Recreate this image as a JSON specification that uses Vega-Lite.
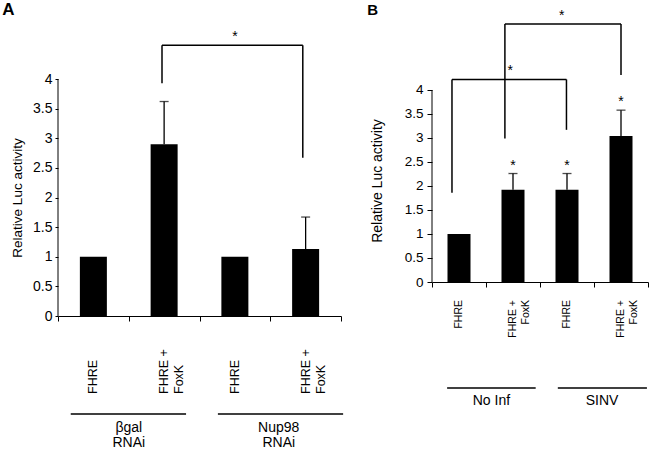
{
  "$schema": "https://vega.github.io/schema/vega-lite/v6.json",
  "padding": {"left": 2, "top": 1, "right": 0, "bottom": 0},
  "spacing": 23,
  "config": {
    "font": "Liberation Sans",
    "numberFormat": "~g",
    "view": {"stroke": null},
    "axis": {"grid": false, "domainColor": "#000", "tickColor": "#000", "labelColor": "#000", "titleColor": "#000", "titleFontWeight": "normal", "labelFont": "Liberation Sans", "titleFont": "Liberation Sans"},
    "axisY": {"tickCount": 8, "labelFontSize": 14, "titleFontSize": 13.5, "tickSize": 4, "labelPadding": 4, "domain": false},
    "axisX": {"tickCount": 4, "labels": false, "tickSize": 5},
    "text": {"color": "#000", "font": "Liberation Sans"}
  },
  "datasets": {
    "barsA": [
      {"pos": 0.5, "label": "FHRE", "value": 1},
      {"pos": 1.5, "label": "FHRE +\nFoxK", "value": 2.9, "upper": 3.62},
      {"pos": 2.5, "label": "FHRE", "value": 1},
      {"pos": 3.5, "label": "FHRE +\nFoxK", "value": 1.13, "upper": 1.67}
    ],
    "barsB": [
      {"pos": 0.5, "label": "FHRE", "value": 1},
      {"pos": 1.5, "label": "FHRE +\nFoxK", "value": 1.92, "upper": 2.26, "sig": "*"},
      {"pos": 2.5, "label": "FHRE", "value": 1.92, "upper": 2.26, "sig": "*"},
      {"pos": 3.5, "label": "FHRE +\nFoxK", "value": 3.04, "upper": 3.58, "sig": "*"}
    ],
    "bracketsA": [
      {"left": 1.47, "right": 3.46, "mid": 2.5, "top": 4.57, "leftEnd": 3.93, "rightEnd": 2.67, "sig": "*"}
    ],
    "bracketsB": [
      {"left": 0.37, "right": 2.49, "mid": 1.45, "top": 4.22, "leftEnd": 1.86, "rightEnd": 3.17, "sig": "*"},
      {"left": 1.35, "right": 3.5, "mid": 2.4, "top": 5.375, "leftEnd": 2.99, "rightEnd": 4.31, "sig": "*"}
    ],
    "groupsA": [
      {"start": 0.18, "end": 1.81, "mid": 1.0, "name": "βgal\nRNAi"},
      {"start": 2.26, "end": 4.03, "mid": 3.12, "name": "Nup98\nRNAi"}
    ],
    "groupsB": [
      {"start": 0.28, "end": 1.92, "mid": 1.1, "name": "No Inf"},
      {"start": 2.33, "end": 3.98, "mid": 3.15, "name": "SINV"}
    ],
    "axisLine": [{"x": 0, "from": 0, "to": 4}],
    "panelA": [{"panel": "A", "x": -0.7, "y": 5.08}],
    "panelB": [{"panel": "B", "x": -1.1, "y": 5.56}]
  },
  "hconcat": [
    {
      "width": 283,
      "height": 237,
      "layer": [
        {
          "data": {"name": "barsA"},
          "mark": {"type": "bar", "color": "#000", "size": 27, "orient": "vertical"},
          "encoding": {
            "x": {"field": "pos", "type": "quantitative", "scale": {"domain": [0, 4], "nice": false, "padding": 0, "zero": false}, "axis": {"title": null}},
            "y": {"field": "value", "type": "quantitative", "scale": {"domain": [0, 4], "nice": false, "padding": 0},
                  "axis": {"title": "Relative Luc activity", "titlePadding": 8, "labelPadding": 3, "tickSize": 3}},
            "y2": {"datum": 0}
          }
        },
        {
          "data": {"name": "axisLine"},
          "mark": {"type": "rule", "color": "#000", "strokeWidth": 1},
          "encoding": {
            "x": {"field": "x", "type": "quantitative"},
            "y": {"field": "from", "type": "quantitative"},
            "y2": {"field": "to"}
          }
        },
        {
          "data": {"name": "barsA"},
          "mark": {"type": "rule", "color": "#000", "strokeWidth": 1.3},
          "encoding": {
            "x": {"field": "pos", "type": "quantitative"},
            "y": {"field": "value", "type": "quantitative"},
            "y2": {"field": "upper"}
          }
        },
        {
          "data": {"name": "barsA"},
          "mark": {"type": "tick", "color": "#000", "orient": "horizontal", "size": 9, "thickness": 1.3},
          "encoding": {
            "x": {"field": "pos", "type": "quantitative"},
            "y": {"field": "upper", "type": "quantitative"}
          }
        },
        {
          "data": {"name": "barsA"},
          "mark": {"type": "text", "angle": 270, "align": "left", "baseline": "middle", "fontSize": 12.5, "lineBreak": "\n", "lineHeight": 15},
          "encoding": {
            "x": {"field": "pos", "type": "quantitative"},
            "y": {"datum": -1.316},
            "text": {"field": "label"}
          }
        },
        {
          "data": {"name": "bracketsA"},
          "mark": {"type": "rule", "color": "#000", "strokeWidth": 1.5},
          "encoding": {
            "x": {"field": "left", "type": "quantitative"},
            "x2": {"field": "right"},
            "y": {"field": "top", "type": "quantitative"}
          }
        },
        {
          "data": {"name": "bracketsA"},
          "mark": {"type": "rule", "color": "#000", "strokeWidth": 1.5},
          "encoding": {
            "x": {"field": "left", "type": "quantitative"},
            "y": {"field": "top", "type": "quantitative"},
            "y2": {"field": "leftEnd"}
          }
        },
        {
          "data": {"name": "bracketsA"},
          "mark": {"type": "rule", "color": "#000", "strokeWidth": 1.5},
          "encoding": {
            "x": {"field": "right", "type": "quantitative"},
            "y": {"field": "top", "type": "quantitative"},
            "y2": {"field": "rightEnd"}
          }
        },
        {
          "data": {"name": "bracketsA"},
          "mark": {"type": "text", "fontSize": 14, "baseline": "alphabetic", "dy": -4},
          "encoding": {
            "x": {"field": "mid", "type": "quantitative"},
            "y": {"field": "top", "type": "quantitative"},
            "text": {"field": "sig"}
          }
        },
        {
          "data": {"name": "groupsA"},
          "mark": {"type": "rule", "color": "#000", "strokeWidth": 1.5},
          "encoding": {
            "x": {"field": "start", "type": "quantitative"},
            "x2": {"field": "end"},
            "y": {"datum": -1.654}
          }
        },
        {
          "data": {"name": "groupsA"},
          "mark": {"type": "text", "baseline": "top", "fontSize": 14, "lineBreak": "\n", "lineHeight": 15},
          "encoding": {
            "x": {"field": "mid", "type": "quantitative"},
            "y": {"datum": -1.77},
            "text": {"field": "name"}
          }
        },
        {
          "data": {"name": "panelA"},
          "mark": {"type": "text", "fontSize": 17, "fontWeight": "bold", "baseline": "alphabetic"},
          "encoding": {
            "x": {"field": "x", "type": "quantitative"},
            "y": {"field": "y", "type": "quantitative"},
            "text": {"field": "panel"}
          }
        }
      ]
    },
    {
      "width": 216,
      "height": 203,
      "layer": [
        {
          "data": {"name": "barsB"},
          "mark": {"type": "bar", "color": "#000", "size": 23, "orient": "vertical"},
          "encoding": {
            "x": {"field": "pos", "type": "quantitative", "scale": {"domain": [0, 4], "nice": false, "padding": 0, "zero": false}, "axis": {"title": null}},
            "y": {"field": "value", "type": "quantitative", "scale": {"domain": [0, 4.229], "nice": false, "padding": 0},
                  "axis": {"title": "Relative Luc activity", "titlePadding": 20, "labelFontSize": 13.5, "tickSize": 5, "titleFontSize": 14}},
            "y2": {"datum": 0}
          }
        },
        {
          "data": {"name": "axisLine"},
          "mark": {"type": "rule", "color": "#000", "strokeWidth": 1},
          "encoding": {
            "x": {"field": "x", "type": "quantitative"},
            "y": {"field": "from", "type": "quantitative"},
            "y2": {"field": "to"}
          }
        },
        {
          "data": {"name": "barsB"},
          "mark": {"type": "rule", "color": "#000", "strokeWidth": 1.3},
          "encoding": {
            "x": {"field": "pos", "type": "quantitative"},
            "y": {"field": "value", "type": "quantitative"},
            "y2": {"field": "upper"}
          }
        },
        {
          "data": {"name": "barsB"},
          "mark": {"type": "tick", "color": "#000", "orient": "horizontal", "size": 9, "thickness": 1.3},
          "encoding": {
            "x": {"field": "pos", "type": "quantitative"},
            "y": {"field": "upper", "type": "quantitative"}
          }
        },
        {
          "data": {"name": "barsB"},
          "mark": {"type": "text", "fontSize": 14, "baseline": "alphabetic", "dy": -4},
          "encoding": {
            "x": {"field": "pos", "type": "quantitative"},
            "y": {"field": "upper", "type": "quantitative"},
            "text": {"field": "sig"}
          }
        },
        {
          "data": {"name": "barsB"},
          "mark": {"type": "text", "angle": 270, "align": "right", "baseline": "middle", "fontSize": 10.5, "lineBreak": "\n", "lineHeight": 13},
          "encoding": {
            "x": {"field": "pos", "type": "quantitative"},
            "y": {"datum": -0.375},
            "text": {"field": "label"}
          }
        },
        {
          "data": {"name": "bracketsB"},
          "mark": {"type": "rule", "color": "#000", "strokeWidth": 1.5},
          "encoding": {
            "x": {"field": "left", "type": "quantitative"},
            "x2": {"field": "right"},
            "y": {"field": "top", "type": "quantitative"}
          }
        },
        {
          "data": {"name": "bracketsB"},
          "mark": {"type": "rule", "color": "#000", "strokeWidth": 1.5},
          "encoding": {
            "x": {"field": "left", "type": "quantitative"},
            "y": {"field": "top", "type": "quantitative"},
            "y2": {"field": "leftEnd"}
          }
        },
        {
          "data": {"name": "bracketsB"},
          "mark": {"type": "rule", "color": "#000", "strokeWidth": 1.5},
          "encoding": {
            "x": {"field": "right", "type": "quantitative"},
            "y": {"field": "top", "type": "quantitative"},
            "y2": {"field": "rightEnd"}
          }
        },
        {
          "data": {"name": "bracketsB"},
          "mark": {"type": "text", "fontSize": 14, "baseline": "alphabetic", "dy": -4},
          "encoding": {
            "x": {"field": "mid", "type": "quantitative"},
            "y": {"field": "top", "type": "quantitative"},
            "text": {"field": "sig"}
          }
        },
        {
          "data": {"name": "groupsB"},
          "mark": {"type": "rule", "color": "#000", "strokeWidth": 1.5},
          "encoding": {
            "x": {"field": "start", "type": "quantitative"},
            "x2": {"field": "end"},
            "y": {"datum": -2.208}
          }
        },
        {
          "data": {"name": "groupsB"},
          "mark": {"type": "text", "baseline": "top", "fontSize": 14},
          "encoding": {
            "x": {"field": "mid", "type": "quantitative"},
            "y": {"datum": -2.33},
            "text": {"field": "name"}
          }
        },
        {
          "data": {"name": "panelB"},
          "mark": {"type": "text", "fontSize": 15, "fontWeight": "bold", "baseline": "alphabetic"},
          "encoding": {
            "x": {"field": "x", "type": "quantitative"},
            "y": {"field": "y", "type": "quantitative"},
            "text": {"field": "panel"}
          }
        }
      ]
    }
  ]
}
